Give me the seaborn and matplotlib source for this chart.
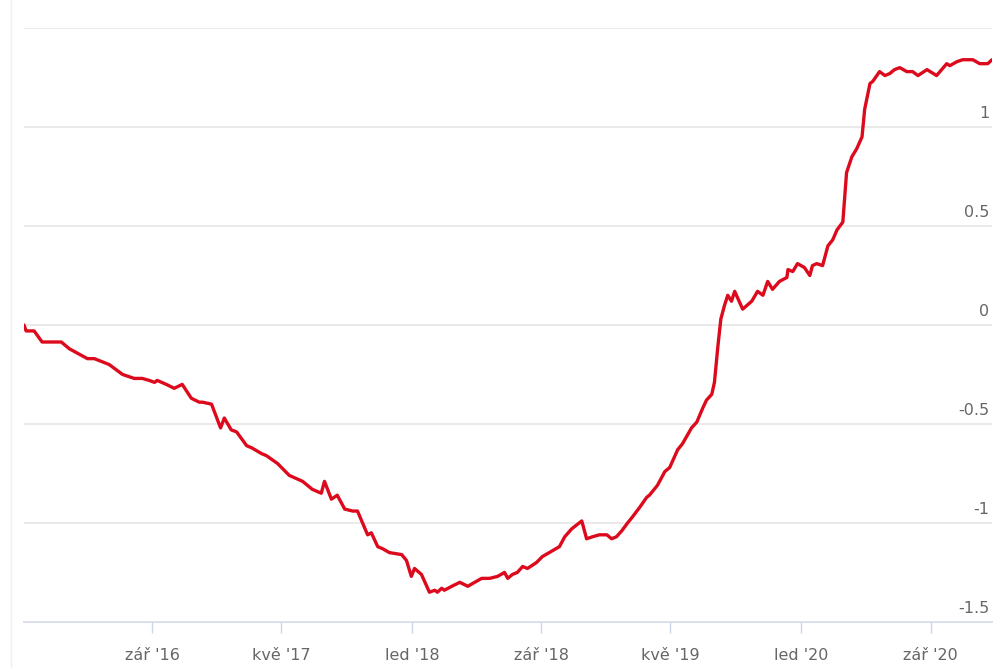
import pandas as pd
import matplotlib
matplotlib.use("Agg")
import matplotlib.pyplot as plt
from matplotlib.lines import Line2D
import seaborn as sns

# values
dates = [
    "2016-01-04", "2016-01-08", "2016-01-23", "2016-02-07", "2016-03-14", "2016-03-29",
    "2016-05-02", "2016-05-15", "2016-06-12", "2016-06-22", "2016-07-07", "2016-07-29",
    "2016-08-13", "2016-08-26", "2016-09-05", "2016-09-10", "2016-09-27", "2016-10-12",
    "2016-10-27", "2016-11-13", "2016-11-28", "2016-12-04", "2016-12-21", "2017-01-07",
    "2017-01-14", "2017-01-27", "2017-02-06", "2017-02-25", "2017-03-06", "2017-03-25",
    "2017-04-03", "2017-04-24", "2017-05-16", "2017-06-10", "2017-06-28", "2017-07-15",
    "2017-07-21", "2017-08-03", "2017-08-14", "2017-08-28", "2017-09-12", "2017-09-21",
    "2017-10-10", "2017-10-17", "2017-10-29", "2017-11-07", "2017-11-20", "2017-12-13",
    "2017-12-22", "2017-12-31", "2018-01-06", "2018-01-19", "2018-02-03", "2018-02-13",
    "2018-02-18", "2018-02-26", "2018-03-03", "2018-03-17", "2018-04-01", "2018-04-16",
    "2018-05-12", "2018-05-27", "2018-06-11", "2018-06-24", "2018-06-30", "2018-07-09",
    "2018-07-18", "2018-07-28", "2018-08-06", "2018-08-23", "2018-09-03", "2018-09-22",
    "2018-10-05", "2018-10-15", "2018-10-28", "2018-11-16", "2018-11-25", "2018-12-06",
    "2018-12-19", "2019-01-02", "2019-01-11", "2019-01-20", "2019-01-30", "2019-02-10",
    "2019-02-19", "2019-03-05", "2019-03-18", "2019-03-23", "2019-04-07", "2019-04-21",
    "2019-04-30", "2019-05-15", "2019-05-24", "2019-06-10", "2019-06-20", "2019-07-01",
    "2019-07-08", "2019-07-18", "2019-07-23", "2019-07-29", "2019-08-04", "2019-08-11",
    "2019-08-17", "2019-08-24", "2019-08-30", "2019-09-14", "2019-10-01", "2019-10-12",
    "2019-10-22", "2019-10-31", "2019-11-09", "2019-11-22", "2019-12-06", "2019-12-08",
    "2019-12-17", "2019-12-26", "2020-01-08", "2020-01-18", "2020-01-23", "2020-01-31",
    "2020-02-11", "2020-02-21", "2020-03-01", "2020-03-09", "2020-03-20", "2020-03-27",
    "2020-04-06", "2020-04-15", "2020-04-25", "2020-04-30", "2020-05-10", "2020-05-15",
    "2020-05-28", "2020-06-07", "2020-06-16", "2020-06-25", "2020-07-05", "2020-07-18",
    "2020-07-29", "2020-08-08", "2020-08-25", "2020-09-12", "2020-10-01", "2020-10-07",
    "2020-10-20", "2020-10-31", "2020-11-19", "2020-12-02", "2020-12-17", "2020-12-25",
]
values = [
    0.00, -0.03, -0.03, -0.086, -0.086, -0.12,
    -0.17, -0.17, -0.20, -0.22, -0.25, -0.27,
    -0.27, -0.28, -0.29, -0.28, -0.30, -0.32,
    -0.30, -0.37, -0.39, -0.39, -0.40, -0.52,
    -0.47, -0.53, -0.54, -0.61, -0.62, -0.65,
    -0.66, -0.70, -0.76, -0.79, -0.83, -0.85,
    -0.79, -0.88, -0.86, -0.93, -0.94, -0.94,
    -1.06, -1.05, -1.12, -1.13, -1.15, -1.16,
    -1.19, -1.27, -1.23, -1.26, -1.35, -1.34,
    -1.35, -1.33, -1.34, -1.32, -1.30, -1.32,
    -1.28, -1.28, -1.27, -1.25, -1.28, -1.26,
    -1.25, -1.22, -1.23, -1.20, -1.17, -1.14,
    -1.12, -1.07, -1.03, -0.99, -1.08, -1.07,
    -1.06, -1.06, -1.08, -1.07, -1.04, -1.00,
    -0.97, -0.92, -0.87, -0.86, -0.81, -0.74,
    -0.72, -0.63, -0.60, -0.52, -0.49, -0.42,
    -0.38, -0.35, -0.29, -0.12, 0.03, 0.10,
    0.15, 0.12, 0.17, 0.08, 0.12, 0.17,
    0.15, 0.22, 0.18, 0.22, 0.24, 0.28,
    0.27, 0.31, 0.29, 0.25, 0.30, 0.31,
    0.30, 0.40, 0.43, 0.48, 0.52, 0.77,
    0.85, 0.89, 0.95, 1.09, 1.22, 1.23,
    1.28, 1.26, 1.27, 1.29, 1.30, 1.28,
    1.28, 1.26, 1.29, 1.26, 1.32, 1.31,
    1.33, 1.34, 1.34, 1.32, 1.32, 1.34,
]

y_ticks = [-1.5, -1, -0.5, 0, 0.5, 1, 1.5]
y_labels = ["-1.5", "-1", "-0.5", "0", "0.5", "1", ""]
x_ticks = ["2016-09-01", "2017-05-01", "2018-01-01", "2018-09-01",
           "2019-05-01", "2020-01-01", "2020-09-01"]
x_labels = ["zář '16", "kvě '17", "led '18", "zář '18", "kvě '19", "led '20", "zář '20"]

df = pd.DataFrame({"date": pd.to_datetime(dates), "value": values})

sns.set_style("white")
plt.rcParams["font.family"] = ["DejaVu Sans"]

fig = plt.figure(figsize=(10, 6.68), dpi=100)
ax = fig.add_axes([0.024, 0.069, 0.968, 0.889])

sns.lineplot(data=df, x="date", y="value", color="#dc0a1c", linewidth=2.4, ax=ax)

ax.set_xlim(df["date"].iloc[0], df["date"].iloc[-1])
ax.set_ylim(-1.5, 1.5)

# horizontal grid
ax.set_yticks(y_ticks)
ax.yaxis.grid(True, color="#e6e6e6", linewidth=1.2)
ax.xaxis.grid(False)
ax.tick_params(axis="y", left=False, right=False, labelleft=False, labelright=False)
for v, lab in zip(y_ticks, y_labels):
    ax.annotate(lab, xy=(1.0, v), xycoords=ax.get_yaxis_transform(),
                xytext=(-2, 4), textcoords="offset points",
                ha="right", va="bottom", fontsize=11.5, color="#666666")

# x axis
ax.set_xticks(pd.to_datetime(x_ticks))
ax.set_xticklabels(x_labels, fontsize=11.5, color="#666666")
ax.tick_params(axis="x", length=8, width=1, color="#ccd6eb", pad=11, bottom=True)
ax.set_xlabel("")
ax.set_ylabel("")

for s in ["top", "right", "left"]:
    ax.spines[s].set_visible(False)
ax.spines["bottom"].set_color("#ccd6eb")
ax.spines["bottom"].set_linewidth(1.2)
ax.spines["bottom"].set_zorder(0)

# faint frame line at the left edge
fig.add_artist(Line2D([0.011, 0.011], [0, 1], transform=fig.transFigure,
                      color="#f0f0f0", linewidth=1))

fig.savefig("out.png", dpi=100)
